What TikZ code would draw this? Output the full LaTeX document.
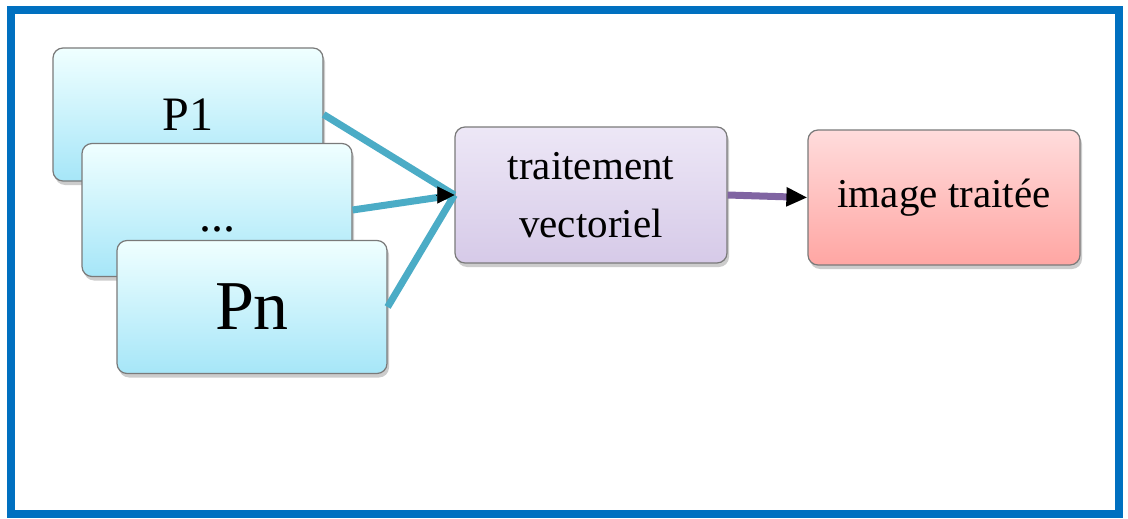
\documentclass[tikz,border=0pt]{standalone}
\usepackage{fontspec}
\setmainfont{LiberationSerif}[Extension=.ttf, UprightFont=*-Regular]
\usetikzlibrary{arrows.meta,shadows}
\definecolor{frameblue}{HTML}{0070C0}
\definecolor{linkteal}{HTML}{4BACC6}
\definecolor{linkpurple}{HTML}{8064A2}
\definecolor{boxedge}{HTML}{7A7A7A}
\tikzset{
  card/.style={draw=boxedge, line width=1.2pt, rounded corners=10pt,
    minimum width=270pt, minimum height=133pt, inner sep=0pt,
    drop shadow={opacity=0.4, shadow xshift=2pt, shadow yshift=-4pt}},
  srcbox/.style={card, top color=cyan!6!white, bottom color={rgb,255:red,166;green,230;blue,248}},
  procbox/.style={card, minimum width=272pt, minimum height=136pt,
    top color={rgb,255:red,237;green,231;blue,246}, bottom color={rgb,255:red,214;green,202;blue,232}},
  outbox/.style={card, minimum width=272pt, minimum height=135pt,
    top color={rgb,255:red,255;green,220;blue,220}, bottom color={rgb,255:red,255;green,166;blue,163}},
  feed/.style={linkteal, line width=7pt},
  pass/.style={linkpurple, line width=7pt},
  bigtxt/.style={font=\fontsize{48}{54}\selectfont},
  hugetxt/.style={font=\fontsize{70}{76}\selectfont},
  midtxt/.style={font=\fontsize{41}{58}\selectfont, align=center},
}
\begin{document}
\begin{tikzpicture}[x=1pt, y=-1pt]
  \useasboundingbox (0,0) rectangle (1128,519);
  \fill[white] (0,0) rectangle (1128,519);
  \draw[frameblue, line width=8pt] (11,10) rectangle (1119,514);

  % source cards, stacked
  \node[srcbox, bigtxt] (p1) at (188,114.5) {P1};
  \node[srcbox, bigtxt] (pd) at (217,210) {\raisebox{-44pt}{...}};
  \node[srcbox, hugetxt] (pn) at (252,307) {Pn};

  % processing and result
  \node[procbox, midtxt] (tv) at (591,195) {traitement\\vectoriel};
  \node[outbox, midtxt] (it) at (944,197.5) {image traitée};

  % connectors
  \draw[feed] (p1.east) -- (tv.west);
  \draw[feed] (pd.east) -- (tv.west);
  \draw[feed] (pn.east) -- (tv.west);
  \draw[-{Triangle[length=17pt, width=17pt]}, black, line width=0.1pt]
    ([xshift=-18pt]tv.west) -- (tv.west);
  \draw[pass, -{Triangle[length=21pt, width=18pt, color=black]}] (tv.east) -- (it.west);
\end{tikzpicture}
\end{document}
